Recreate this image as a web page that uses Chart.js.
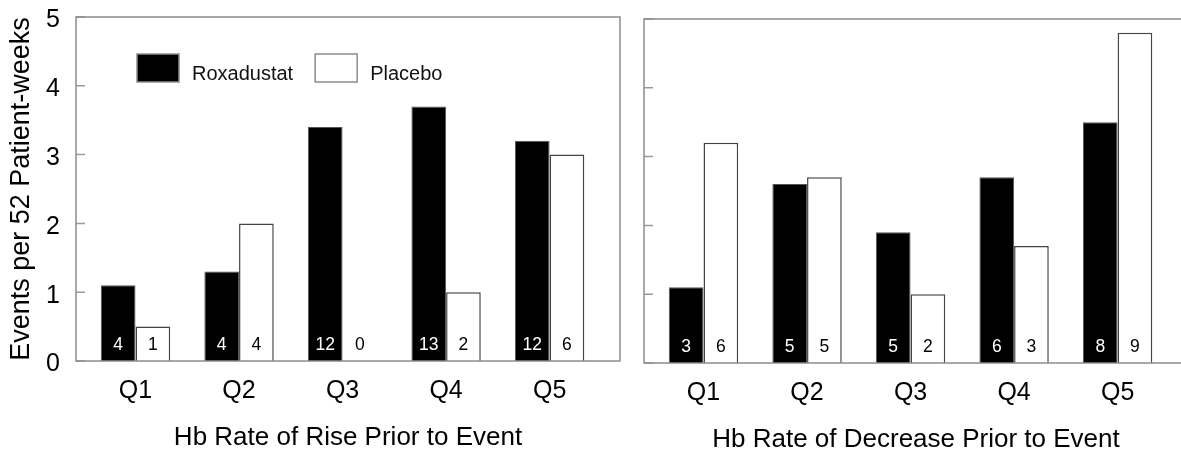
<!DOCTYPE html>
<html><head><meta charset="utf-8">
<script src="https://cdn.jsdelivr.net/npm/chart.js@4/dist/chart.umd.min.js"></script>
<style>
html,body{margin:0;padding:0;background:#fff;overflow:hidden;width:1181px;height:450px;}
#c1{position:absolute;left:0;top:0;}
#c2{position:absolute;left:630px;top:2px;}
</style></head><body>
<canvas id="c1" width="630" height="450"></canvas>
<canvas id="c2" width="580" height="450"></canvas>
<script>
const categories = ['Q1','Q2','Q3','Q4','Q5'];
const seriesNames = ['Roxadustat','Placebo'];
const yTicks = [0,1,2,3,4,5];
const riseRoxadustat = [1.1,1.3,3.4,3.7,3.2];
const risePlacebo = [0.5,2.0,0,1.0,3.0];
const riseRoxCounts = [4,4,12,13,12];
const risePlaCounts = [1,4,0,2,6];
const decRoxadustat = [1.1,2.6,1.9,2.7,3.5];
const decPlacebo = [3.2,2.7,1.0,1.7,4.8];
const decRoxCounts = [3,5,5,6,8];
const decPlaCounts = [6,5,2,3,9];
const riseTitle = 'Hb Rate of Rise Prior to Event';
const decTitle = 'Hb Rate of Decrease Prior to Event';
const yTitle = 'Events per 52 Patient-weeks';

const FONT = "'Liberation Sans', Arial, Helvetica, sans-serif";

const framePlugin = {
  id:'frame',
  afterDatasetsDraw(chart){
    const {ctx, chartArea:a} = chart;
    const ys = chart.scales.y;
    ctx.save();
    ctx.strokeStyle='#9a9a9a'; ctx.lineWidth=1.5;
    ctx.beginPath();
    yTicks.forEach(v=>{ const p = ys.getPixelForValue(v); ctx.moveTo(a.left,p); ctx.lineTo(a.left+9,p); });
    ctx.stroke();
    ctx.strokeStyle='#8c8c8c';
    ctx.strokeRect(a.left, a.top, a.right-a.left, a.bottom-a.top);
    ctx.restore();
  }
};

const countPlugin = {
  id:'counts',
  afterDatasetsDraw(chart,args,opts){
    const {ctx} = chart; const ys = chart.scales.y;
    ctx.save(); ctx.font = `17.5px ${FONT}`; ctx.textAlign='center'; ctx.textBaseline='middle';
    opts.values.forEach((arr,i)=>{
      const meta = chart.getDatasetMeta(i);
      ctx.fillStyle = i===0 ? '#fff' : '#000';
      arr.forEach((n,j)=>{ const el = meta.data[j]; ctx.fillText(String(n), el.x, ys.getPixelForValue(0)-16); });
    });
    ctx.restore();
  }
};

const legendPlugin = {
  id:'boxLegend',
  afterDraw(chart,args,opts){
    if(!opts.show) return;
    const {ctx, chartArea:a} = chart;
    ctx.save();
    ctx.font = `20px ${FONT}`;
    let x = a.left + 61; const y = a.top + 37;
    chart.data.datasets.forEach(ds=>{
      ctx.fillStyle = ds.backgroundColor; ctx.fillRect(x,y,42,28);
      ctx.strokeStyle = '#8c8c8c'; ctx.lineWidth=1.5; ctx.strokeRect(x,y,42,28);
      ctx.fillStyle='#111'; ctx.textBaseline='alphabetic'; ctx.textAlign='left';
      ctx.fillText(ds.label, x+55, y+26);
      x += 55 + ctx.measureText(ds.label).width + 22;
    });
    ctx.restore();
  }
};

function makeChart(id, rox, pla, roxN, plaN, xTitle, showY, showLegend, yAxisWidth, padRight, padTop){
  return new Chart(document.getElementById(id), {
    type:'bar',
    data:{ datasets:[
      {label:seriesNames[0], data: rox.map((v,i)=>({x:i+1,y:v})), backgroundColor:'#000', borderColor:'#555', borderWidth:1, categoryPercentage:0.67, barPercentage:1},
      {label:seriesNames[1], data: pla.map((v,i)=>({x:i+1,y:v})), backgroundColor:'#fff', borderColor:'#444', borderWidth:1.5, categoryPercentage:0.67, barPercentage:1}
    ]},
    options:{
      responsive:false, animation:false, devicePixelRatio:1,
      layout:{padding:{top:padTop,right:padRight,left:0,bottom:0}},
      plugins:{legend:{display:false}, tooltip:{enabled:false}, boxLegend:{show:showLegend}, counts:{values:[roxN,plaN]}},
      scales:{
        x:{type:'linear', bounds:'data', offset:false, min:0.425, max:5.68,
           grid:{display:false, drawTicks:false}, border:{display:false},
           afterBuildTicks: s => { s.ticks = categories.map((c,i)=>({value:i+1})); },
           ticks:{callback: v => categories[v-1] ?? '', font:{family:FONT,size:25}, color:'#000', padding:15, maxRotation:0, autoSkip:false},
           title:{display:true, text:xTitle, font:{family:FONT,size:26,lineHeight:0.92}, color:'#000', padding:{top:0,bottom:0}},
           afterFit: s => { s.height = 89; s.paddingLeft = 0; s.paddingRight = 0; }
        },
        y:{min:0, max:5,
           afterBuildTicks: s => { s.ticks = yTicks.map(v=>({value:v})); },
           ticks:{display:showY, callback: v => ['', String(v)], font:{family:FONT,size:25,lineHeight:0.28}, color:'#000', padding:16},
           grid:{display:false, drawTicks:false}, border:{display:false},
           title:{display:showY, text:yTitle, font:{family:FONT,size:27,lineHeight:1}, color:'#000', padding:{top:8,bottom:0}},
           afterFit: s => { s.width = yAxisWidth; s.paddingTop = 0; s.paddingBottom = 0; }
        }
      }
    },
    plugins:[framePlugin, countPlugin, legendPlugin]
  });
}

makeChart('c1', riseRoxadustat, risePlacebo, riseRoxCounts, risePlaCounts, riseTitle, true, true, 76, 10, 17);
makeChart('c2', decRoxadustat, decPlacebo, decRoxCounts, decPlaCounts, decTitle, false, false, 14, 22, 17);
</script>
</body></html>
